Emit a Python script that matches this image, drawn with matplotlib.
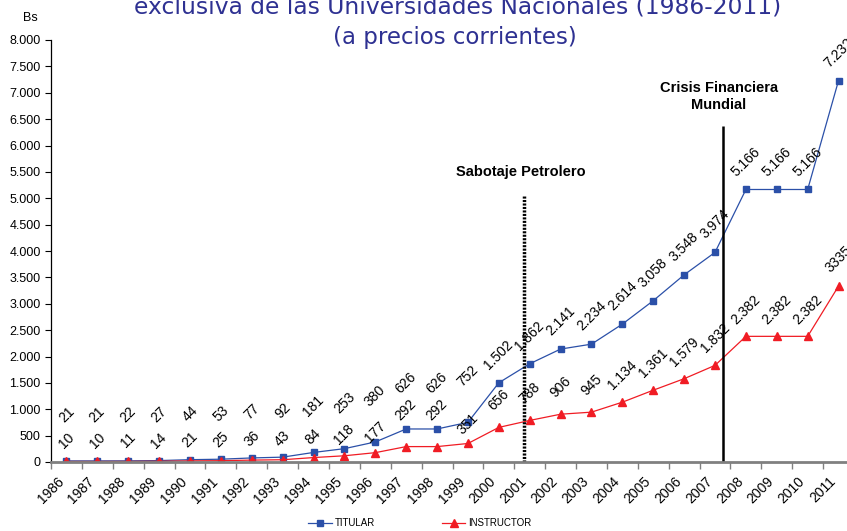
import matplotlib.pyplot as plt
from matplotlib.ticker import FuncFormatter

years = [str(y) for y in range(1986, 2012)]
titular = [21, 21, 22, 27, 44, 53, 77, 92, 181, 253, 380, 626, 626, 752,
           1502, 1862, 2141, 2234, 2614, 3058, 3548, 3974, 5166, 5166, 5166, 7232]
instructor = [10, 10, 11, 14, 21, 25, 36, 43, 84, 118, 177, 292, 292, 351,
              656, 788, 906, 945, 1134, 1361, 1579, 1832, 2382, 2382, 2382, 3335]


def miles(v):
    return f"{int(v):,}".replace(",", ".")


tit_labels = [miles(v) for v in titular]
inst_labels = [miles(v) for v in instructor]
inst_labels[-1] = "3335"  # asi aparece en el original

blue = "#2b50a8"
red = "#f01c24"
title_col = "#2e3192"

plt.rcParams["font.family"] = ["Liberation Sans", "DejaVu Sans"]

fig = plt.figure(figsize=(8.47, 5.31), dpi=100)
ax = fig.add_axes([51 / 847, 69 / 531, 803 / 847, 422 / 531])

x = list(range(len(years)))
ax.plot(x, titular, color=blue, lw=0.9, marker="s", ms=4.2, label="TITULAR")
ax.plot(x, instructor, color=red, lw=0.9, marker="^", ms=5.5, label="INSTRUCTOR")

# etiquetas de datos
for i, (v, t) in enumerate(zip(titular, tit_labels)):
    dy = 46 if v < 1000 else 28
    ax.annotate(t, (i, v), xytext=(0, dy), textcoords="offset pixels",
                ha="center", va="center", rotation=45, fontsize=10)
for i, (v, t) in enumerate(zip(instructor, inst_labels)):
    if v < 200:
        dy = 21
    elif v < 300:
        dy = 37
    elif v < 400:
        dy = 19
    else:
        dy = 27
    ax.annotate(t, (i, v), xytext=(0, dy), textcoords="offset pixels",
                ha="center", va="center", rotation=45, fontsize=10)

# eventos
ax.vlines(14.82, 0, 5050, color="black", lw=2.5, linestyles=(0, (0.6, 0.4)))
ax.vlines(21.25, 0, 6370, color="black", lw=1.8)
ax.text(14.7, 5500, "Sabotaje Petrolero", ha="center", va="center",
        fontsize=10.5, fontweight="bold")
ax.text(21.12, 6930, "Crisis Financiera\nMundial", ha="center", va="center",
        fontsize=10.5, fontweight="bold", linespacing=1.25)

ax.set_xlim(-0.5, 25.5)
ax.set_ylim(0, 8000)
ax.set_yticks(range(0, 8001, 500))
ax.yaxis.set_major_formatter(FuncFormatter(lambda v, p: miles(v)))
ax.tick_params(axis="y", labelsize=9, length=4, width=0.8)

ax.set_xticks(x)
ax.set_xticklabels(years, rotation=45, ha="right", va="top", fontsize=10)
ax.set_xticks([i - 0.5 for i in range(len(years) + 1)], minor=True)
ax.tick_params(axis="x", which="major", length=0, pad=9)
ax.tick_params(axis="x", which="minor", length=5, width=1, color="#808080")

for s in ["top", "right"]:
    ax.spines[s].set_visible(False)
ax.spines["bottom"].set_color("#808080")
ax.spines["bottom"].set_linewidth(2)
ax.spines["left"].set_linewidth(0.9)

fig.text(30 / 847, 1 - 18 / 531, "Bs", ha="center", va="center", fontsize=9)

fig.text(458 / 847, 1 - 14 / 531,
         "exclusiva de las Universidades Nacionales (1986-2011)",
         ha="center", va="baseline", fontsize=16.8, color=title_col,
         family="DejaVu Sans")
fig.text(455 / 847, 1 - 44 / 531, "(a precios corrientes)",
         ha="center", va="baseline", fontsize=16.5, color=title_col,
         family="DejaVu Sans")

fig.legend(loc="center", bbox_to_anchor=(420 / 847, 1 - 523 / 531), ncol=2,
           frameon=False, fontsize=7, handlelength=2.4, columnspacing=6.9,
           handletextpad=0.3, borderaxespad=0)

fig.savefig("out.png", dpi=100)
